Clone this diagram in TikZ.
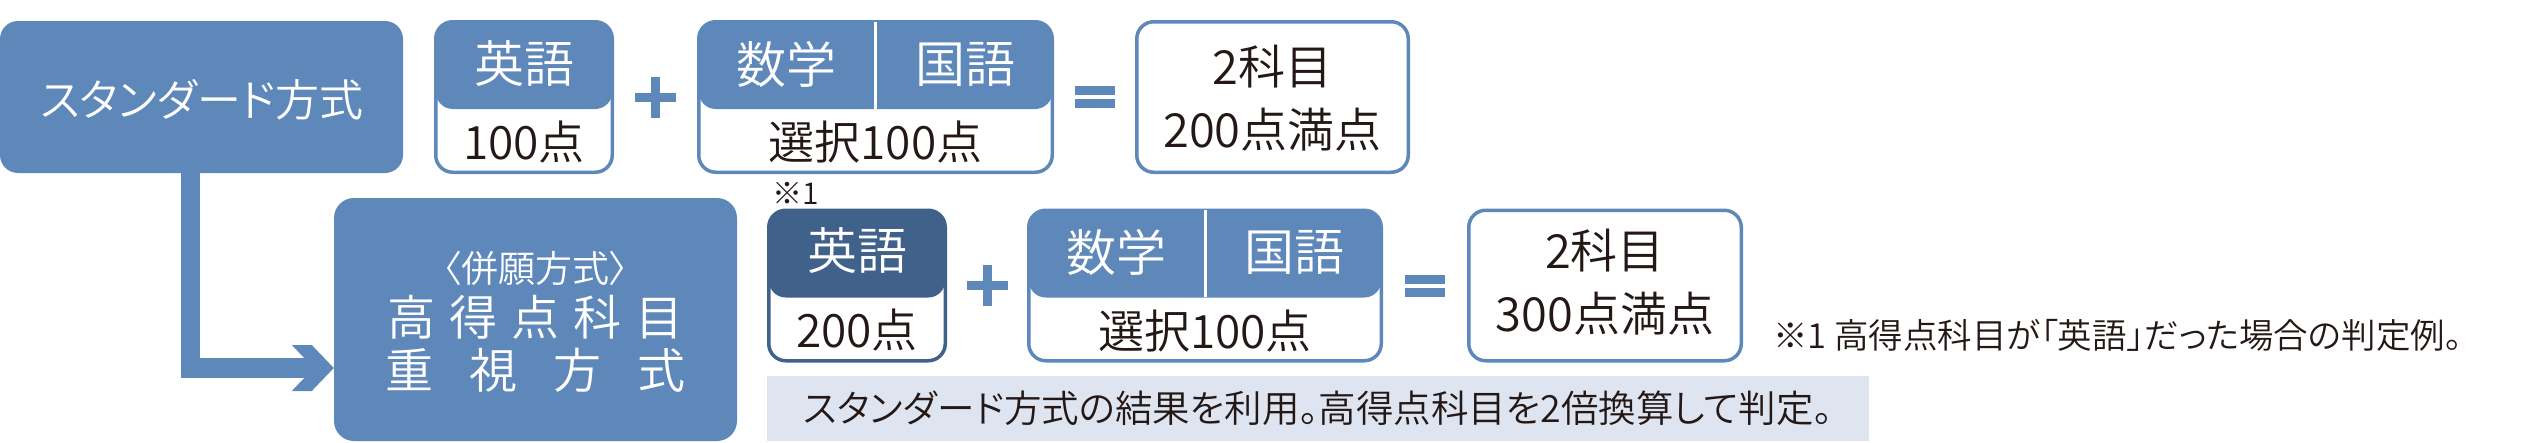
\documentclass[tikz,border=0pt]{standalone}
\usepackage{fontspec}
\IfFontExistsTF{Noto Sans CJK JP DemiLight}
  {\setmainfont{Noto Sans CJK JP DemiLight}[RawFeature=+palt]}
  {\IfFontExistsTF{Noto Sans CJK JP Light}
    {\setmainfont{Noto Sans CJK JP Light}[RawFeature=+palt]}
    {\setmainfont{Noto Sans CJK JP}[RawFeature=+palt]}}
\usetikzlibrary{calc}
\definecolor{lb}{RGB}{94,136,185}
\definecolor{db}{RGB}{64,98,138}
\definecolor{bandc}{RGB}{222,228,240}
\definecolor{ink}{RGB}{35,24,21}
\newcommand\fsz[1]{\fontsize{#1}{#1}\selectfont}
\begin{document}
\begin{tikzpicture}[x=1pt,y=-1pt,
  bigbox/.style={fill=lb, rounded corners=18pt, inner sep=0pt},
  sbox/.style={draw=#1, fill=white, line width=3.5pt, rounded corners=17pt, inner sep=0pt,
    minimum height=150.5pt,
    path picture={\fill[#1] (path picture bounding box.north west) rectangle ([yshift=-87.25pt]path picture bounding box.north east);}},
  rbox/.style={draw=lb, fill=white, line width=3.5pt, rounded corners=17pt, inner sep=0pt, minimum height=150.5pt, minimum width=271.5pt},
  wtxt/.style={text=white, inner sep=0pt, font=\fsz{50}},
  btxt/.style={text=ink, inner sep=0pt, font=\fsz{46}},
  restxt/.style={text=ink, inner sep=0pt, align=center, font={\fontsize{47}{63}\selectfont}},
  op/.style={draw=lb, line width=9pt},
  conn/.style={draw=lb, line width=19.5pt, line join=miter},
  divider/.style={draw=white, line width=3pt}
]
\useasboundingbox (0,0) rectangle (2522,442);

% left boxes
\node[bigbox, minimum width=403pt, minimum height=152pt] (std) at (201.5,97) {};
\node[text=white, inner sep=0pt, font=\fsz{44}] (stdt) at (202,100) {スタンダード方式};
\node[bigbox, rounded corners=20pt, minimum width=403pt, minimum height=243pt] (kt) at (535.5,319.5) {};
\node[text=white, inner sep=0pt, font=\fsz{37}] (kt1) at (535.5,268) {〈併願方式〉};
\node[text=white, inner sep=0pt, font=\fsz{48}] (kt2) at (535.5,317) {高\hspace{14pt}得\hspace{14pt}点\hspace{14pt}科\hspace{14pt}目};
\node[text=white, inner sep=0pt, font=\fsz{48}] (kt3) at (535.5,370) {重\hspace{36pt}視\hspace{36pt}方\hspace{36pt}式};

% connector
\draw[conn] ([xshift=-11pt]std.south) |- ([xshift=-19pt,yshift=-48.5pt]kt.west);
\fill[lb] ([yshift=-48.5pt]kt.west) -- ++(-22,-23) -- ++(-20,0) -- ++(22,23) -- ++(-22,23) -- ++(20,0) -- cycle;

% row 1
\node[sbox=lb, minimum width=176.5pt] (e1) at (524,97) {};
\node[wtxt] (e1t) at (524,64) {英語};
\node[btxt] (e1b) at (524,142) {100点};
\node[sbox=lb, minimum width=353.5pt] (m1) at (875.5,97) {};
\draw[divider] ([yshift=-1.5pt]m1.north) -- (875.5,109);
\node[wtxt] (m1a) at (786,64) {数学};
\node[wtxt] (m1k) at (965,64) {国語};
\node[btxt] (m1b) at (875.5,142) {選択100点};
\node[rbox] (r1) at (1272.5,97) {};
\node[restxt] (r1t) at (1272.5,98.5) {2科目\\200点満点};

\coordinate (p1) at ($(e1.east)!0.5!(m1.west)$);
\draw[op] ([xshift=-20.5pt]p1) -- ([xshift=20.5pt]p1);
\draw[op] ([yshift=-20.5pt]p1) -- ([yshift=20.5pt]p1);
\coordinate (q1) at ($(m1.east)!0.5!(r1.west)$);
\draw[op] ([xshift=-20pt,yshift=6.5pt]q1) -- ([xshift=20pt,yshift=6.5pt]q1);
\draw[op] ([xshift=-20pt,yshift=-6.5pt]q1) -- ([xshift=20pt,yshift=-6.5pt]q1);

% row 2
\node[text=ink, inner sep=0pt, font=\fsz{30}] (note1) at (796,193) {※1};
\node[sbox=db, minimum width=176.5pt] (e2) at (857,285.5) {};
\node[wtxt] (e2t) at (857,251) {英語};
\node[btxt] (e2b) at (857,330) {200点};
\node[sbox=lb, minimum width=352.5pt] (m2) at (1205,285.5) {};
\draw[divider] ([yshift=-1.5pt]m2.north) -- (1205,297);
\node[wtxt] (m2a) at (1116,252) {数学};
\node[wtxt] (m2k) at (1294,252) {国語};
\node[btxt] (m2b) at (1205,331) {選択100点};
\node[rbox, minimum width=272.5pt] (r2) at (1605,285.5) {};
\node[restxt] (r2t) at (1605,282) {2科目\\300点満点};

\coordinate (p2) at ($(e2.east)!0.5!(m2.west)$);
\draw[op] ([xshift=-20.5pt]p2) -- ([xshift=20.5pt]p2);
\draw[op] ([yshift=-20.5pt]p2) -- ([yshift=20.5pt]p2);
\coordinate (q2) at ($(m2.east)!0.5!(r2.west)$);
\draw[op] ([xshift=-20pt,yshift=6.5pt]q2) -- ([xshift=20pt,yshift=6.5pt]q2);
\draw[op] ([xshift=-20pt,yshift=-6.5pt]q2) -- ([xshift=20pt,yshift=-6.5pt]q2);

% band and note
\node[fill=bandc, minimum width=1102pt, minimum height=65pt, inner sep=0pt, text=ink, font=\fsz{37.5}] (bd) at (1318,408.5) {スタンダード方式の結果を利用。高得点科目を2倍換算して判定。};
\node[anchor=west, text=ink, inner sep=0pt, font=\fsz{34.5}] (fn) at (1773,335) {※1 高得点科目が「英語」だった場合の判定例。};
\end{tikzpicture}
\end{document}
